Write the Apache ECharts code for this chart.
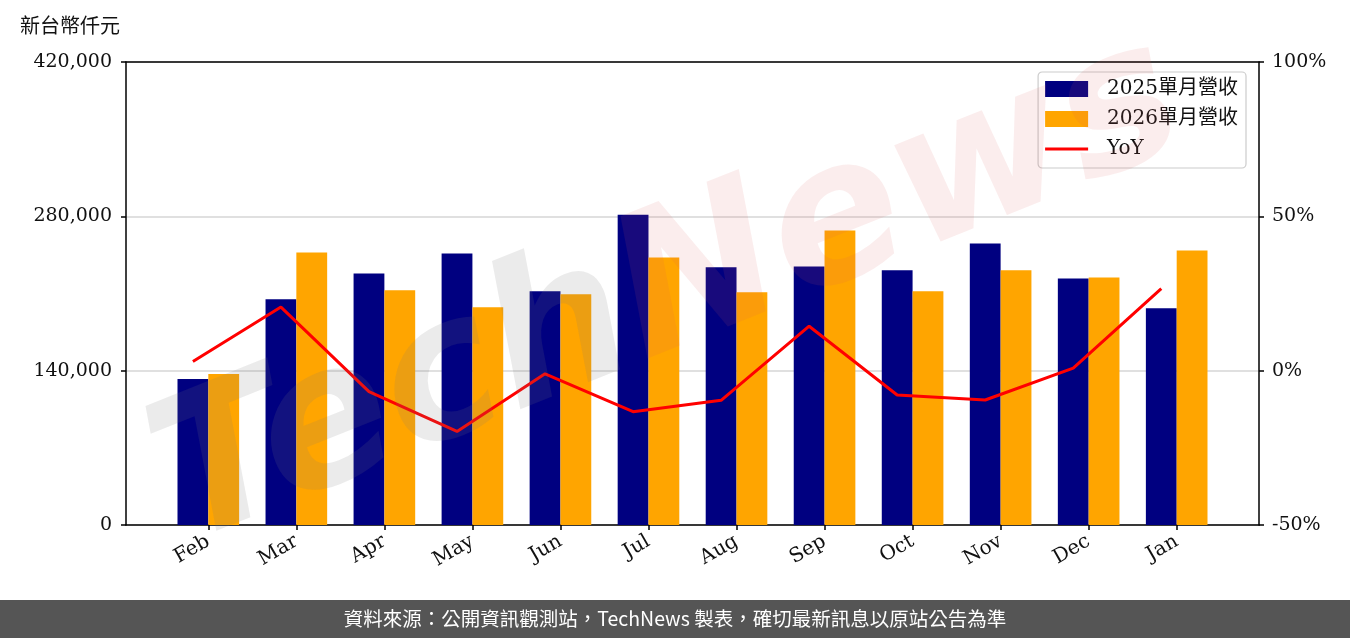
<!DOCTYPE html>
<html>
<head>
<meta charset="utf-8">
<script src="https://cdn.jsdelivr.net/npm/echarts@6/dist/echarts.min.js"></script>
<style>html,body{margin:0;padding:0;background:#fff}#c{width:1350px;height:638px}</style>
</head>
<body>
<div id="c"></div>
<script>
const months = ['Feb','Mar','Apr','May','Jun','Jul','Aug','Sep','Oct','Nov','Dec','Jan'];
const rev2025 = [132500, 204800, 228200, 246300, 212000, 281500, 233700, 234600, 231000, 255300, 223700, 196600];
const rev2026 = [137000, 247200, 212900, 197500, 209300, 242700, 211100, 267100, 212000, 231000, 224600, 249000];
const yoy = [3.0, 20.6, -6.8, -19.7, -1.0, -13.3, -9.6, 14.4, -7.9, -9.5, 0.8, 26.6];
const leftTicks = [0, 140000, 280000, 420000];
const rightTicks = [-50, 0, 50, 100];

const serif = "'DejaVu Serif', 'Noto Sans CJK TC', serif";
const idx = months.map((m, i) => i);
const axLine = {show: true, onZero: false, lineStyle: {color: '#000', width: 1.5}};
const axTick = {show: true, length: 5, lineStyle: {color: '#000', width: 1.5}};
const chart = echarts.init(document.getElementById('c'), null, {renderer: 'canvas'});
chart.setOption({
  backgroundColor: '#fff',
  animation: false,
  grid: {left: 126, right: 91, top: 62, bottom: 113},
  legend: {
    orient: 'vertical', right: 104, top: 72,
    backgroundColor: '#fff', borderColor: '#cccccc', borderWidth: 1.2, borderRadius: 4,
    padding: [6, 8, 8, 7], itemGap: 8, itemWidth: 43, itemHeight: 16,
    textStyle: {fontFamily: serif, fontSize: 20, color: '#111', lineHeight: 22, padding: [0, 0, 0, 14]},
    data: [
      {name: '2025單月營收', icon: 'rect'},
      {name: '2026單月營收', icon: 'rect'},
      {name: 'YoY', icon: 'path://M0,0 M43,16 M0,6.5 L43,6.5 L43,9.5 L0,9.5 Z'}
    ]
  },
  xAxis: [{
    type: 'value', min: -0.935, max: 11.935, position: 'bottom',
    axisLine: axLine,
    axisTick: Object.assign({customValues: idx}, axTick),
    axisLabel: {customValues: idx, rotate: 30, fontFamily: serif, fontSize: 20, color: '#111', margin: 15,
      formatter: v => months[Math.round(v)]},
    splitLine: {show: false}
  }, {
    type: 'value', min: -0.935, max: 11.935, position: 'top',
    axisLine: axLine, axisTick: {show: false}, axisLabel: {show: false}, splitLine: {show: false}
  }],
  yAxis: [{
    type: 'value', min: 0, max: 420000, interval: 140000,
    axisLine: axLine, axisTick: axTick,
    axisLabel: {fontFamily: serif, fontSize: 19, color: '#111', margin: 14,
      formatter: v => v.toLocaleString('en-US')},
    splitLine: {show: true, lineStyle: {color: '#d6d6d6', width: 1.5}}
  }, {
    type: 'value', min: -50, max: 100, interval: 50, position: 'right',
    axisLine: axLine, axisTick: axTick,
    axisLabel: {fontFamily: serif, fontSize: 19, color: '#111', margin: 13, formatter: v => v + '%'},
    splitLine: {show: false}
  }],
  series: [{
    name: '2025單月營收', type: 'bar', barWidth: '35%', barGap: '0%',
    itemStyle: {color: '#000080'},
    data: rev2025.map((v, i) => [i, v])
  }, {
    name: '2026單月營收', type: 'bar', barWidth: '35%', barGap: '0%',
    itemStyle: {color: '#FFA500'},
    data: rev2026.map((v, i) => [i, v])
  }, {
    name: 'YoY', type: 'line', yAxisIndex: 1, symbol: 'none', z: 5,
    lineStyle: {color: '#FF0000', width: 3}, itemStyle: {color: '#FF0000'},
    data: yoy.map((v, i) => [i - 0.175, v])
  }],
  graphic: [{
    type: 'text', left: 20, top: 15, z: 10,
    style: {text: '新台幣仟元', font: "20px 'Noto Sans CJK TC'", fill: '#111'}
  }, {
    type: 'text', x: 670, y: 295, rotation: 0.38, z: 100, silent: true,
    style: {
      text: '{a|Tech}{b|News}', align: 'center', verticalAlign: 'middle',
      rich: {
        a: {font: "italic bold 195px 'DejaVu Sans'", fill: 'rgba(120,120,120,0.15)'},
        b: {font: "italic bold 195px 'DejaVu Sans'", fill: 'rgba(220,90,90,0.11)'}
      }
    }
  }, {
    type: 'rect', left: 0, top: 600, z: 10,
    shape: {width: 1350, height: 38}, style: {fill: '#555555'}
  }, {
    type: 'text', x: 675, y: 619, z: 11,
    style: {text: '資料來源：公開資訊觀測站，TechNews 製表，確切最新訊息以原站公告為準',
      font: "19.5px 'Noto Sans CJK TC'", fill: '#fff', align: 'center', verticalAlign: 'middle'}
  }]
});
</script>
</body>
</html>
